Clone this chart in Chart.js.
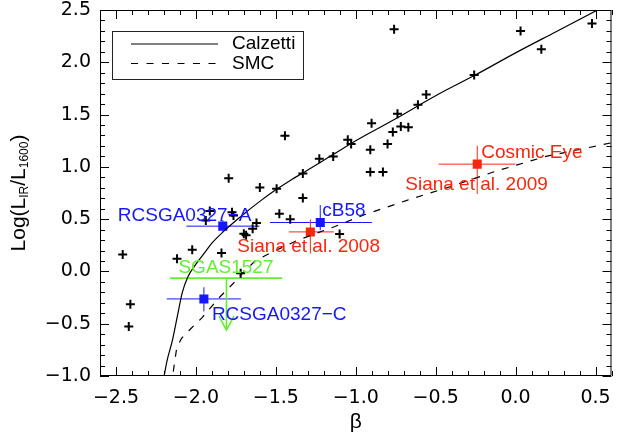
<!DOCTYPE html>
<html><head><meta charset="utf-8">
<script src="https://cdn.jsdelivr.net/npm/chart.js@4.4.0/dist/chart.umd.min.js"></script>
<style>html,body{margin:0;padding:0;background:#fff}</style>
</head><body>
<canvas id="c" width="618" height="436"></canvas>
<script>
// ---- data ----
const calzettiBeta = [-2.205, -2.18, -2.147, -2.115, -2.085, -2.05, -2.0, -1.95, -1.9, -1.8, -1.7, -1.6, -1.5, -1.4, -1.3, -1.15, -1.0, -0.75, -0.5, -0.25, 0.0, 0.25, 0.55];
const calzettiLog  = [-1.05, -0.85, -0.66, -0.42, -0.20, -0.05, 0.07, 0.17, 0.27, 0.42, 0.55, 0.67, 0.78, 0.88, 0.97, 1.11, 1.25, 1.46, 1.68, 1.88, 2.09, 2.29, 2.53];

const smcBeta = [-2.155, -2.12, -2.09, -2.04, -1.96, -1.86, -1.77, -1.71, -1.63, -1.53, -1.36, -1.13, -0.95, -0.68, -0.41, -0.12, 0.19, 0.60];
const smcLog  = [-1.10, -0.73, -0.64, -0.56, -0.44, -0.26, -0.12, -0.02, 0.10, 0.18, 0.30, 0.43, 0.54, 0.68, 0.81, 0.96, 1.10, 1.23];

const sampleBeta = [-0.760, 0.031, 0.478, 0.161, -0.259, -0.559, -0.611, -0.739, -0.901, -0.718, -0.671, -0.768, -1.050, -1.029, -1.228, -1.141, -0.909, -0.801, -0.909, -0.830, -1.331, -1.331,
  -1.443, -1.795, -1.600, -1.495, -1.478, -1.410, -1.913, -1.938, -1.774, -1.765, -1.621, -1.645, -1.700, -1.686, -2.023, -1.840, -2.118, -1.720, -2.458, -2.410, -2.420, -1.101];
const sampleLog  = [2.317, 2.298, 2.370, 2.125, 1.878, 1.692, 1.593, 1.507, 1.417, 1.385, 1.378, 1.333, 1.260, 1.218, 1.077, 1.099, 1.163, 1.218, 0.952, 0.952, 0.936, 0.702,
  1.298, 0.891, 0.803, 0.790, 0.552, 0.499, 0.578, 0.487, 0.565, 0.535, 0.464, 0.407, 0.360, 0.345, 0.208, 0.176, 0.122, -0.018, 0.163, -0.314, -0.526, 0.358];

const blueNames  = ['RCSGA0327\u2212A', 'RCSGA0327\u2212C', 'cB58'];
const blueBeta   = [-1.832, -1.950, -1.222];
const blueLog    = [0.433, -0.263, 0.468];
const blueBetaLo = [-2.060, -2.182, -1.536];
const blueBetaHi = [-1.602, -1.718, -0.899];
const blueLogLo  = [0.38, -0.382, 0.394];
const blueLogHi  = [0.49, -0.151, 0.635];

const redNames   = ['Siana et al. 2008', 'Cosmic Eye'];
const redRefs    = ['', 'Siana et al. 2009'];
const redBeta    = [-1.284, -0.240];
const redLog     = [0.378, 1.026];
const redBetaLo  = [-1.418, -0.481];
const redBetaHi  = [-1.137, -0.001];
const redLogLo   = [0.170, 0.740];
const redLogHi   = [0.497, 1.202];

const limitNames  = ['SGAS1527'];
const limitBeta   = [-1.809];
const limitLog    = [-0.064];
const limitBetaLo = [-2.161];
const limitBetaHi = [-1.460];

const xTickValues = [-2.5, -2.0, -1.5, -1.0, -0.5, 0.0, 0.5];
const yTickValues = [-1.0, -0.5, 0.0, 0.5, 1.0, 1.5, 2.0, 2.5];
const legendNames = ['Calzetti', 'SMC'];

// ---- styles ----
const BLUE = '#1616ff', RED = '#f5280f', GREEN = '#64ee32';
const TXT = '19px "Liberation Sans", Arial, sans-serif';
const blueLabelOff = [[-105, -5], [8, 21], [2, -6]];
const redLabelOff = [[-73, 20], [4, -6]];
const redRefOff = [null, [-72, 26]];
const limitLabelOff = [[-48, -5]];

const zip = (a, b) => a.map((v, i) => ({x: v, y: b[i]}));
const fmt = v => { const s = Math.abs(v) < 1e-9 ? '0.0' : v.toFixed(1); return s.replace('-', '\u2212'); };
const noPad = s => { s.paddingTop = 0; s.paddingBottom = 0; s.paddingLeft = 0; s.paddingRight = 0; };

const decor = {
  id: 'decor',
  beforeDatasetsDraw(chart) {
    const ctx = chart.ctx, xs = chart.scales.x, ys = chart.scales.y;
    ctx.save();
    ctx.lineWidth = 1;
    const bar = (col, b, l, bl, bh, ll, lh) => {
      ctx.strokeStyle = col;
      ctx.beginPath();
      const py = ys.getPixelForValue(l), px = xs.getPixelForValue(b);
      ctx.moveTo(xs.getPixelForValue(bl), py); ctx.lineTo(xs.getPixelForValue(bh), py);
      ctx.moveTo(px, ys.getPixelForValue(ll)); ctx.lineTo(px, ys.getPixelForValue(lh));
      ctx.stroke();
    };
    blueBeta.forEach((b, i) => bar(BLUE, b, blueLog[i], blueBetaLo[i], blueBetaHi[i], blueLogLo[i], blueLogHi[i]));
    redBeta.forEach((b, i) => bar(RED, b, redLog[i], redBetaLo[i], redBetaHi[i], redLogLo[i], redLogHi[i]));
    limitBeta.forEach((b, i) => {
      ctx.strokeStyle = GREEN; ctx.lineWidth = 1.6;
      const py = ys.getPixelForValue(limitLog[i]), px = xs.getPixelForValue(b);
      ctx.beginPath();
      ctx.moveTo(xs.getPixelForValue(limitBetaLo[i]), py); ctx.lineTo(xs.getPixelForValue(limitBetaHi[i]), py);
      ctx.moveTo(px, py); ctx.lineTo(px, py + 52);
      ctx.moveTo(px - 7.5, py + 38); ctx.lineTo(px, py + 52); ctx.lineTo(px + 7.5, py + 38);
      ctx.stroke();
    });
    ctx.restore();
  },
  afterDatasetsDraw(chart) {
    const ctx = chart.ctx, xs = chart.scales.x, ys = chart.scales.y, a = chart.chartArea;
    ctx.save();
    ctx.strokeStyle = '#000'; ctx.lineWidth = 1;
    ctx.beginPath();
    ctx.rect(a.left + 0.5, a.top + 0.5, a.right - a.left - 1, a.bottom - a.top - 1);
    for (let i = -26; i <= 6; i++) {
      const px = Math.round(xs.getPixelForValue(i / 10)) + 0.5, len = (i % 5 === 0) ? 9 : 5;
      ctx.moveTo(px, a.bottom); ctx.lineTo(px, a.bottom - len);
      ctx.moveTo(px, a.top); ctx.lineTo(px, a.top + len);
    }
    for (let i = -10; i <= 25; i++) {
      const py = Math.round(ys.getPixelForValue(i / 10)) + 0.5, len = (i % 5 === 0) ? 9 : 5;
      ctx.moveTo(a.left, py); ctx.lineTo(a.left + len, py);
      ctx.moveTo(a.right, py); ctx.lineTo(a.right - len, py);
    }
    ctx.stroke();

    ctx.font = TXT; ctx.textAlign = 'left'; ctx.textBaseline = 'alphabetic';
    const put = (col, txt, b, l, off) => {
      ctx.fillStyle = col;
      ctx.fillText(txt, xs.getPixelForValue(b) + off[0], ys.getPixelForValue(l) + off[1]);
    };
    blueNames.forEach((n, i) => put(BLUE, n, blueBeta[i], blueLog[i], blueLabelOff[i]));
    redNames.forEach((n, i) => put(RED, n, redBeta[i], redLog[i], redLabelOff[i]));
    redRefs.forEach((n, i) => { if (n) put(RED, n, redBeta[i], redLog[i], redRefOff[i]); });
    limitNames.forEach((n, i) => put(GREEN, n, limitBeta[i], limitLog[i], limitLabelOff[i]));

    // legend box
    ctx.strokeStyle = '#222'; ctx.lineWidth = 1;
    ctx.strokeRect(112.5, 31.5, 191, 48);
    ctx.strokeStyle = '#000'; ctx.lineWidth = 1.2;
    ctx.beginPath(); ctx.moveTo(131, 44); ctx.lineTo(218, 44); ctx.stroke();
    ctx.setLineDash([7, 8.5]);
    ctx.beginPath(); ctx.moveTo(131, 63.5); ctx.lineTo(220, 63.5); ctx.stroke();
    ctx.setLineDash([]);
    ctx.fillStyle = '#000';
    ctx.fillText(legendNames[0], 232, 48.5);
    ctx.fillText(legendNames[1], 232, 68.5);

    // x title
    ctx.font = '21px "Liberation Sans", Arial, sans-serif';
    ctx.textAlign = 'center';
    ctx.fillText('\u03b2', (a.left + a.right) / 2, 428);

    // y title with subscripts
    const parts = [['Log(L', 0], ['IR', 1], ['/L', 0], ['1600', 1], [')', 0]];
    const big = '21px "Liberation Sans", Arial, sans-serif', small = '12px "Liberation Sans", Arial, sans-serif';
    let total = 0;
    parts.forEach(p => { ctx.font = p[1] ? small : big; total += ctx.measureText(p[0]).width; });
    ctx.translate(25, (a.top + a.bottom) / 2);
    ctx.rotate(-Math.PI / 2);
    ctx.textAlign = 'left';
    let x = -total / 2;
    parts.forEach(p => {
      ctx.font = p[1] ? small : big;
      ctx.fillText(p[0], x, p[1] ? 3 : 0);
      x += ctx.measureText(p[0]).width;
    });
    ctx.restore();
  }
};

const tickFont = {family: '"DejaVu Sans", sans-serif', size: 19, lineHeight: 1.0};

new Chart(document.getElementById('c'), {
  type: 'scatter',
  data: {
    datasets: [
      {label: legendNames[0], data: zip(calzettiBeta, calzettiLog), showLine: true, borderColor: '#000', borderWidth: 1.2,
        pointRadius: 0, cubicInterpolationMode: 'monotone', fill: false},
      {label: legendNames[1], data: zip(smcBeta, smcLog), showLine: true, borderColor: '#000', borderWidth: 1.2,
        borderDash: [7, 8], pointRadius: 0, tension: 0, fill: false},
      {label: 'sample', data: zip(sampleBeta, sampleLog), pointStyle: 'cross', pointRadius: 4.5,
        borderColor: '#000', borderWidth: 2, showLine: false},
      {label: 'blue', data: zip(blueBeta, blueLog), pointStyle: 'rect', pointRadius: 6.4,
        backgroundColor: BLUE, borderColor: BLUE, borderWidth: 0, showLine: false},
      {label: 'red', data: zip(redBeta, redLog), pointStyle: 'rect', pointRadius: 6.4,
        backgroundColor: RED, borderColor: RED, borderWidth: 0, showLine: false}
    ]
  },
  options: {
    responsive: false, animation: false, devicePixelRatio: 1,
    layout: {padding: {left: 0, right: 3, top: 10, bottom: 0}},
    plugins: {legend: {display: false}, tooltip: {enabled: false}},
    scales: {
      x: {
        type: 'linear', min: -2.6, max: 0.6,
        grid: {display: false, drawTicks: false}, border: {display: false},
        afterBuildTicks: s => { s.ticks = xTickValues.map(v => ({value: v})); },
        afterFit: s => { s.height = 60; noPad(s); },
        ticks: {font: tickFont, color: '#000', padding: 13, maxRotation: 0, autoSkip: false, callback: v => fmt(v)}
      },
      y: {
        type: 'linear', min: -1.0, max: 2.5,
        grid: {display: false, drawTicks: false}, border: {display: false},
        afterBuildTicks: s => { s.ticks = yTickValues.map(v => ({value: v})); },
        afterFit: s => { s.width = 100; noPad(s); },
        ticks: {font: tickFont, color: '#000', padding: 9, autoSkip: false, callback: v => fmt(v)}
      }
    }
  },
  plugins: [decor]
});
</script>
</body></html>
